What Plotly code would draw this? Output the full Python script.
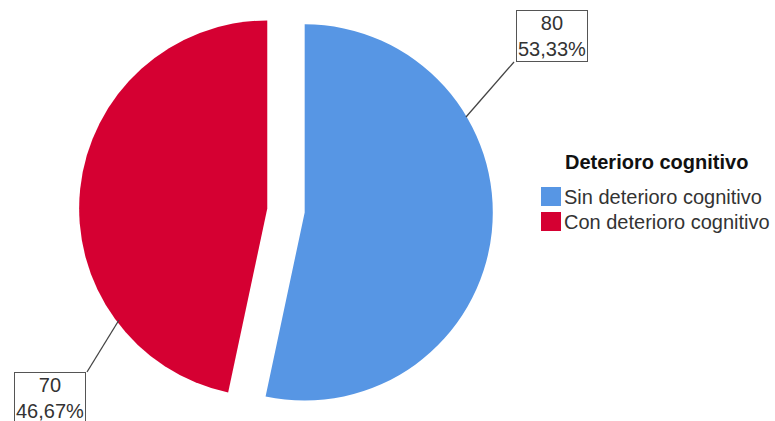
import plotly.graph_objects as go

# ---- data ----
categories = ["Sin deterioro cognitivo", "Con deterioro cognitivo"]
counts = [80, 70]
colors = ["#5796E4", "#D50032"]
legend_title = "Deterioro cognitivo"

W, H = 775, 421
FONT = "Liberation Sans, Arial, sans-serif"

def X(px):
    return px / W

def Y(py):
    return 1 - py / H

total = sum(counts)
label_texts = [f"{c}<br>{(100 * c / total):.2f}%".replace(".", ",") for c in counts]

fig = go.Figure()
fig.add_trace(go.Pie(
    labels=categories,
    values=counts,
    marker=dict(colors=colors, line=dict(width=0)),
    sort=False,
    direction="clockwise",
    rotation=0,
    pull=[0.1, 0.1],
    textinfo="none",
    showlegend=False,
    domain=dict(x=[0.102, 0.636], y=[0.008, 0.992]),
))

# boxed value labels with leader lines
box_specs = [  # (center x px, top y px, line from (px,py) to (px,py))
    (552, 10, (514, 62), (466, 117)),
    (50, 372, (87, 372), (119, 320)),
]
annotations = []
shapes = []
for txt, (cx, top, p0, p1) in zip(label_texts, box_specs):
    annotations.append(dict(
        x=X(cx), y=Y(top), xref="paper", yref="paper",
        xanchor="center", yanchor="top", showarrow=False,
        text=txt, align="center",
        font=dict(family=FONT, size=20, color="#333333"),
        bordercolor="#555555", borderwidth=1, borderpad=1,
        bgcolor="white",
    ))
    shapes.append(dict(
        type="line", xref="paper", yref="paper",
        x0=X(p0[0]), y0=Y(p0[1]), x1=X(p1[0]), y1=Y(p1[1]),
        line=dict(color="#444444", width=1.3),
    ))

# manual legend
annotations.append(dict(
    x=X(563), y=Y(162), xref="paper", yref="paper",
    xanchor="left", yanchor="middle", showarrow=False,
    text=f"<b>{legend_title}</b>",
    font=dict(family=FONT, size=20, color="#111111"),
))
item_y = [196.5, 221.5]
for name, col, yc in zip(categories, colors, item_y):
    shapes.append(dict(
        type="rect", xref="paper", yref="paper",
        x0=X(541), x1=X(561), y0=Y(yc - 9.5), y1=Y(yc + 9.5),
        fillcolor=col, line=dict(width=0),
    ))
    annotations.append(dict(
        x=X(562), y=Y(yc), xref="paper", yref="paper",
        xanchor="left", yanchor="middle", showarrow=False,
        text=name,
        font=dict(family=FONT, size=20, color="#333333"),
    ))

fig.update_layout(
    width=W, height=H,
    margin=dict(l=0, r=0, t=0, b=0),
    paper_bgcolor="white", plot_bgcolor="white",
    annotations=annotations,
    shapes=shapes,
    showlegend=False,
)

fig.write_html("out.html")
